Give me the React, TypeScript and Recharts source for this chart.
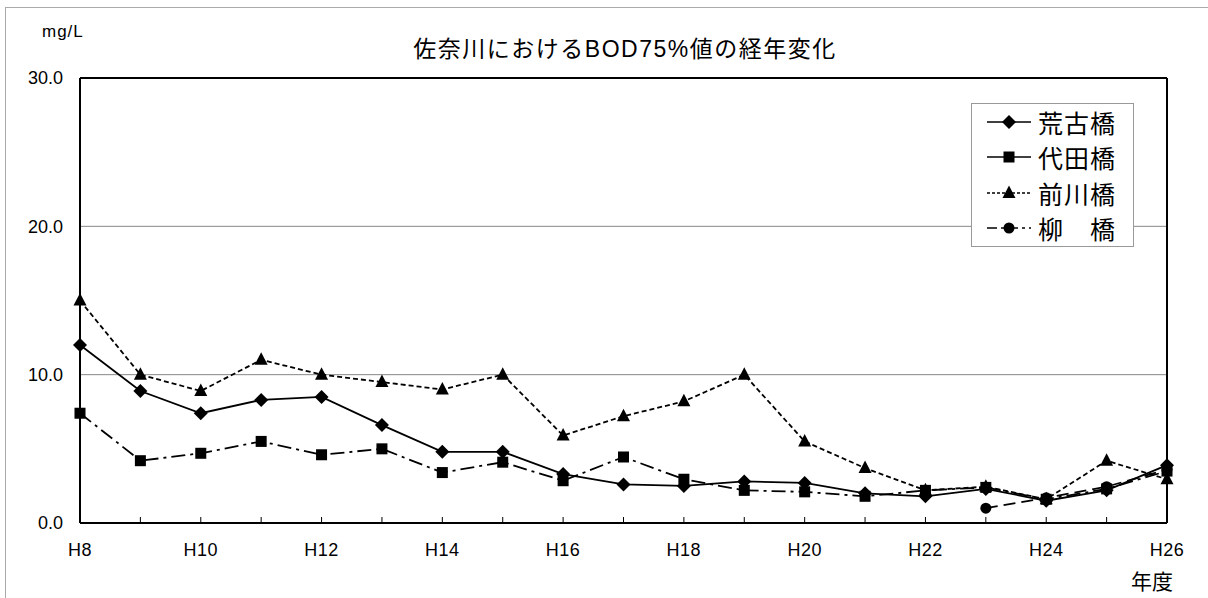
import { LineChart, Line, XAxis, YAxis, CartesianGrid, ReferenceLine } from "recharts";

// 年度 (categories)
const years = ["H8", "H9", "H10", "H11", "H12", "H13", "H14", "H15", "H16", "H17", "H18", "H19", "H20", "H21", "H22", "H23", "H24", "H25", "H26"];

// BOD 75% values, mg/L
const arako = [12.0, 8.9, 7.4, 8.3, 8.5, 6.6, 4.8, 4.8, 3.3, 2.6, 2.5, 2.8, 2.7, 2.0, 1.8, 2.3, 1.5, 2.2, 3.9];
const shirota = [7.4, 4.2, 4.7, 5.5, 4.6, 5.0, 3.4, 4.1, 2.85, 4.45, 2.95, 2.2, 2.1, 1.8, 2.2, 2.4, 1.6, 2.3, 3.5];
const maekawa = [15.0, 10.0, 8.9, 11.0, 10.0, 9.5, 9.0, 10.0, 5.9, 7.2, 8.2, 10.0, 5.5, 3.7, 2.2, 2.45, 1.6, 4.2, 2.95];
const yanagi = [null, null, null, null, null, null, null, null, null, null, null, null, null, null, null, 1.0, 1.7, 2.45, 3.6];

const yTicks = [0, 10, 20, 30];

const data = years.map((y, i) => ({
  year: y,
  arako: arako[i],
  shirota: shirota[i],
  maekawa: maekawa[i],
  yanagi: yanagi[i],
}));

const FONT = '"Liberation Sans", "Noto Sans CJK JP", sans-serif';

type Shape = "diamond" | "square" | "triangle" | "circle";

const Marker = ({ cx, cy, shape }: { cx: number; cy: number; shape: Shape }) => {
  if (cx == null || cy == null) return null;
  if (shape === "diamond")
    return <polygon points={`${cx},${cy - 7} ${cx + 7},${cy} ${cx},${cy + 7} ${cx - 7},${cy}`} fill="#000" />;
  if (shape === "square") return <rect x={cx - 5.5} y={cy - 5.5} width={11} height={11} fill="#000" />;
  if (shape === "triangle")
    return <polygon points={`${cx},${cy - 7.5} ${cx + 6.5},${cy + 5} ${cx - 6.5},${cy + 5}`} fill="#000" />;
  return <circle cx={cx} cy={cy} r={5.5} fill="#000" />;
};

const series = [
  { key: "arako", name: "荒古橋", dash: undefined, shape: "diamond" as Shape },
  { key: "shirota", name: "代田橋", dash: "14 5 3 5", shape: "square" as Shape },
  { key: "maekawa", name: "前川橋", dash: "5 3", shape: "triangle" as Shape },
  { key: "yanagi", name: "柳\u3000橋", dash: "12 6", shape: "circle" as Shape },
];

const legendDash = ["", "", "3 2", "10 4 3 4"];

const LegendBox = () => (
  <div
    style={{
      position: "absolute",
      left: 971,
      top: 103,
      width: 163,
      height: 144,
      border: "1px solid #999",
      background: "#fff",
      boxSizing: "border-box",
      paddingTop: 0,
    }}
  >
    {series.map((s, i) => (
      <div key={s.key} style={{ height: 35.5, display: "flex", alignItems: "center" }}>
        <svg width={50} height={20} style={{ marginLeft: 14 }}>
          <line x1={1} y1={10} x2={45} y2={10} stroke="#000" strokeWidth={1.5} strokeDasharray={legendDash[i] || undefined} />
          <Marker cx={23} cy={10} shape={s.shape} />
        </svg>
        <span style={{ fontFamily: FONT, fontSize: 25, letterSpacing: 1, color: "#000", marginLeft: 2, whiteSpace: "pre" }}>
          {s.name}
        </span>
      </div>
    ))}
  </div>
);

const XTick = (props: any) => {
  const { x, y, payload, index } = props;
  return (
    <g>
      <line x1={x} y1={y} x2={x} y2={y - 6} stroke="#000" strokeWidth={1} />
      {index % 2 === 0 && (
        <text x={x} y={y + 33} textAnchor="middle" fontSize={18} letterSpacing={0.5} fontFamily={FONT} fill="#000">
          {payload.value}
        </text>
      )}
    </g>
  );
};

export default function App() {
  return (
    <div style={{ position: "absolute", left: 0, top: 0, width: 1208, height: 598, background: "#fff" }}>
      <div
        style={{
          position: "absolute",
          left: 5,
          top: 7,
          width: 1210,
          height: 600,
          borderTop: "1px solid #aaa",
          borderLeft: "1px solid #aaa",
        }}
      />
      <div style={{ position: "absolute", left: 42, top: 22, fontFamily: FONT, fontSize: 17, letterSpacing: 1, color: "#000" }}>
        mg/L
      </div>
      <div
        style={{
          position: "absolute",
          left: 403,
          top: 30,
          width: 444,
          textAlign: "center",
          fontFamily: FONT,
          fontSize: 23,
          letterSpacing: 1.5,
          color: "#000",
          whiteSpace: "nowrap",
        }}
      >
        佐奈川におけるBOD75%値の経年変化
      </div>
      <div style={{ position: "absolute", left: 1131, top: 565, fontFamily: FONT, fontSize: 21, color: "#000" }}>年度</div>
      <LineChart width={1208} height={598} data={data} margin={{ top: 78, right: 41, left: 20, bottom: 45 }}>
        <CartesianGrid vertical={false} stroke="#888" />
        <XAxis
          dataKey="year"
          interval={0}
          tickLine={false}
          tickSize={0}
          tickMargin={0}
          height={30}
          axisLine={{ stroke: "#000", strokeWidth: 2 }}
          tick={<XTick />}
        />
        <YAxis
          domain={[0, 30]}
          ticks={yTicks}
          width={60}
          tickLine={false}
          tickSize={6}
          tickMargin={11}
          tickFormatter={(v: number) => v.toFixed(1)}
          tick={{ fontSize: 18, fontFamily: FONT, fill: "#000" }}
          axisLine={{ stroke: "#000", strokeWidth: 2 }}
        />
        <ReferenceLine y={30} stroke="#000" strokeWidth={2} />
        <ReferenceLine x="H26" stroke="#000" strokeWidth={2} />
        {series.map((s) => (
          <Line
            key={s.key}
            dataKey={s.key}
            name={s.name}
            stroke="#000"
            strokeWidth={1.8}
            strokeDasharray={s.dash}
            isAnimationActive={false}
            connectNulls={false}
            dot={(p: any) => <Marker key={`${s.key}-${p.index}`} cx={p.cx} cy={p.cy} shape={s.shape} />}
            activeDot={false}
          />
        ))}
      </LineChart>
      <LegendBox />
    </div>
  );
}
